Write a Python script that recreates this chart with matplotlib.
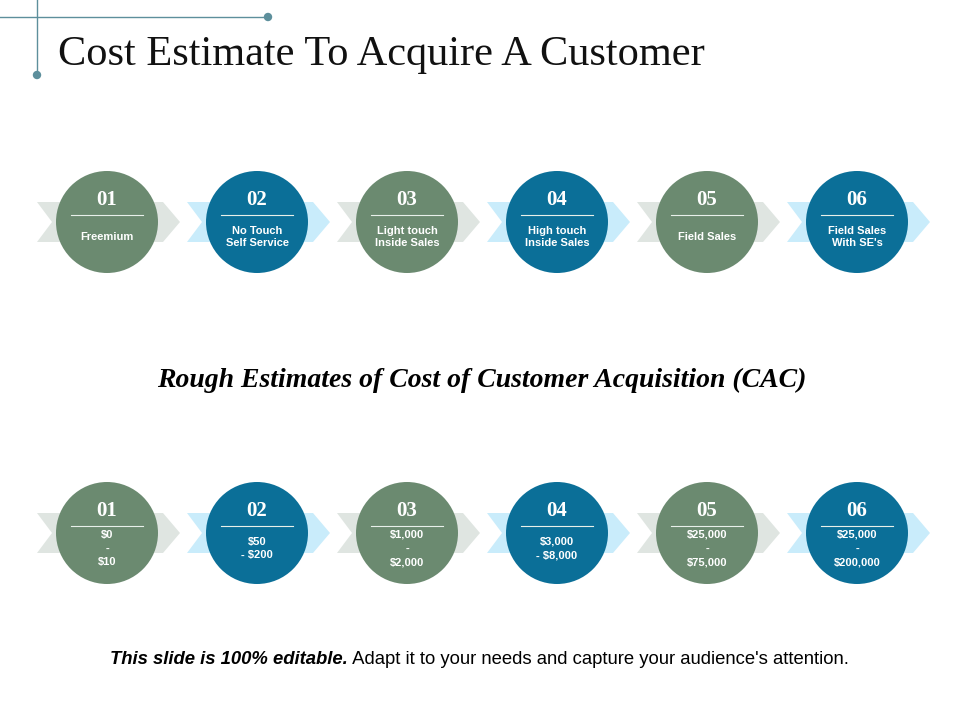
import matplotlib
matplotlib.use("Agg")
import matplotlib.pyplot as plt
from matplotlib.patches import Circle, Polygon

numbers = ["01", "02", "03", "04", "05", "06"]
channels = ["Freemium", "No Touch\nSelf Service", "Light touch\nInside Sales",
            "High touch\nInside Sales", "Field Sales", "Field Sales\nWith SE's"]
costs = ["$0\n-\n$10", "$50\n- $200", "$1,000\n-\n$2,000", "$3,000\n- $8,000",
         "$25,000\n-\n$75,000", "$25,000\n-\n$200,000"]

green, blue = "#6b8a70", "#0b6f98"
lgray, lblue = "#dfe5e1", "#c9ecfb"

fig = plt.figure(figsize=(9.6, 7.2), dpi=100)
ax = fig.add_axes([0, 0, 1, 1])
ax.set_xlim(0, 960); ax.set_ylim(720, 0); ax.axis("off")

# decoration
ax.plot([37, 37], [0, 75], color="#5d8f9c", lw=1)
ax.plot([0, 268], [17, 17], color="#5d8f9c", lw=1)
ax.add_patch(Circle((37, 75), 3.5, color="#5d8f9c"))
ax.add_patch(Circle((268, 17), 3.5, color="#5d8f9c"))

ax.text(58, 55, "Cost Estimate To Acquire A Customer", fontsize=30.5,
        family="Liberation Serif", va="center", ha="left", color="#111111")
ax.text(482, 380, "Rough Estimates of Cost of Customer Acquisition (CAC)", fontsize=20,
        family="Liberation Serif", style="italic", weight="bold", va="center", ha="center")

def row(cy, labels, dy, ls):
    for i, (n, lab) in enumerate(zip(numbers, labels)):
        cx = 107 + 150 * i
        x0 = cx - 70
        h = 20
        pts = [(x0, cy - h), (x0 + 126, cy - h), (x0 + 143, cy), (x0 + 126, cy + h),
               (x0, cy + h), (x0 + 15, cy)]
        ax.add_patch(Polygon(pts, closed=True, color=lgray if i % 2 == 0 else lblue, lw=0))
        ax.add_patch(Circle((cx, cy), 51, color=green if i % 2 == 0 else blue, lw=0))
        ax.text(cx, cy - 22, n, fontsize=15, family="Liberation Serif", weight="bold",
                color="white", ha="center", va="center")
        ax.plot([cx - 36, cx + 36], [cy - 7, cy - 7], color="#e8f0ea", lw=0.8)
        ax.text(cx, cy + dy, lab, fontsize=8, family="Liberation Sans",
                weight="bold", color="white", ha="center", va="center", linespacing=ls)

row(222, channels, 15, 1.25)
row(533, costs, 15.5, 1.45)

ax.text(348, 660, "This slide is 100% editable.", fontsize=13.3, family="Liberation Sans",
        style="italic", weight="bold", ha="right", va="center")
ax.text(348, 660, " Adapt it to your needs and capture your audience's attention.",
        fontsize=13.3, family="Liberation Sans", ha="left", va="center")
fig.savefig("out.png", dpi=100)
